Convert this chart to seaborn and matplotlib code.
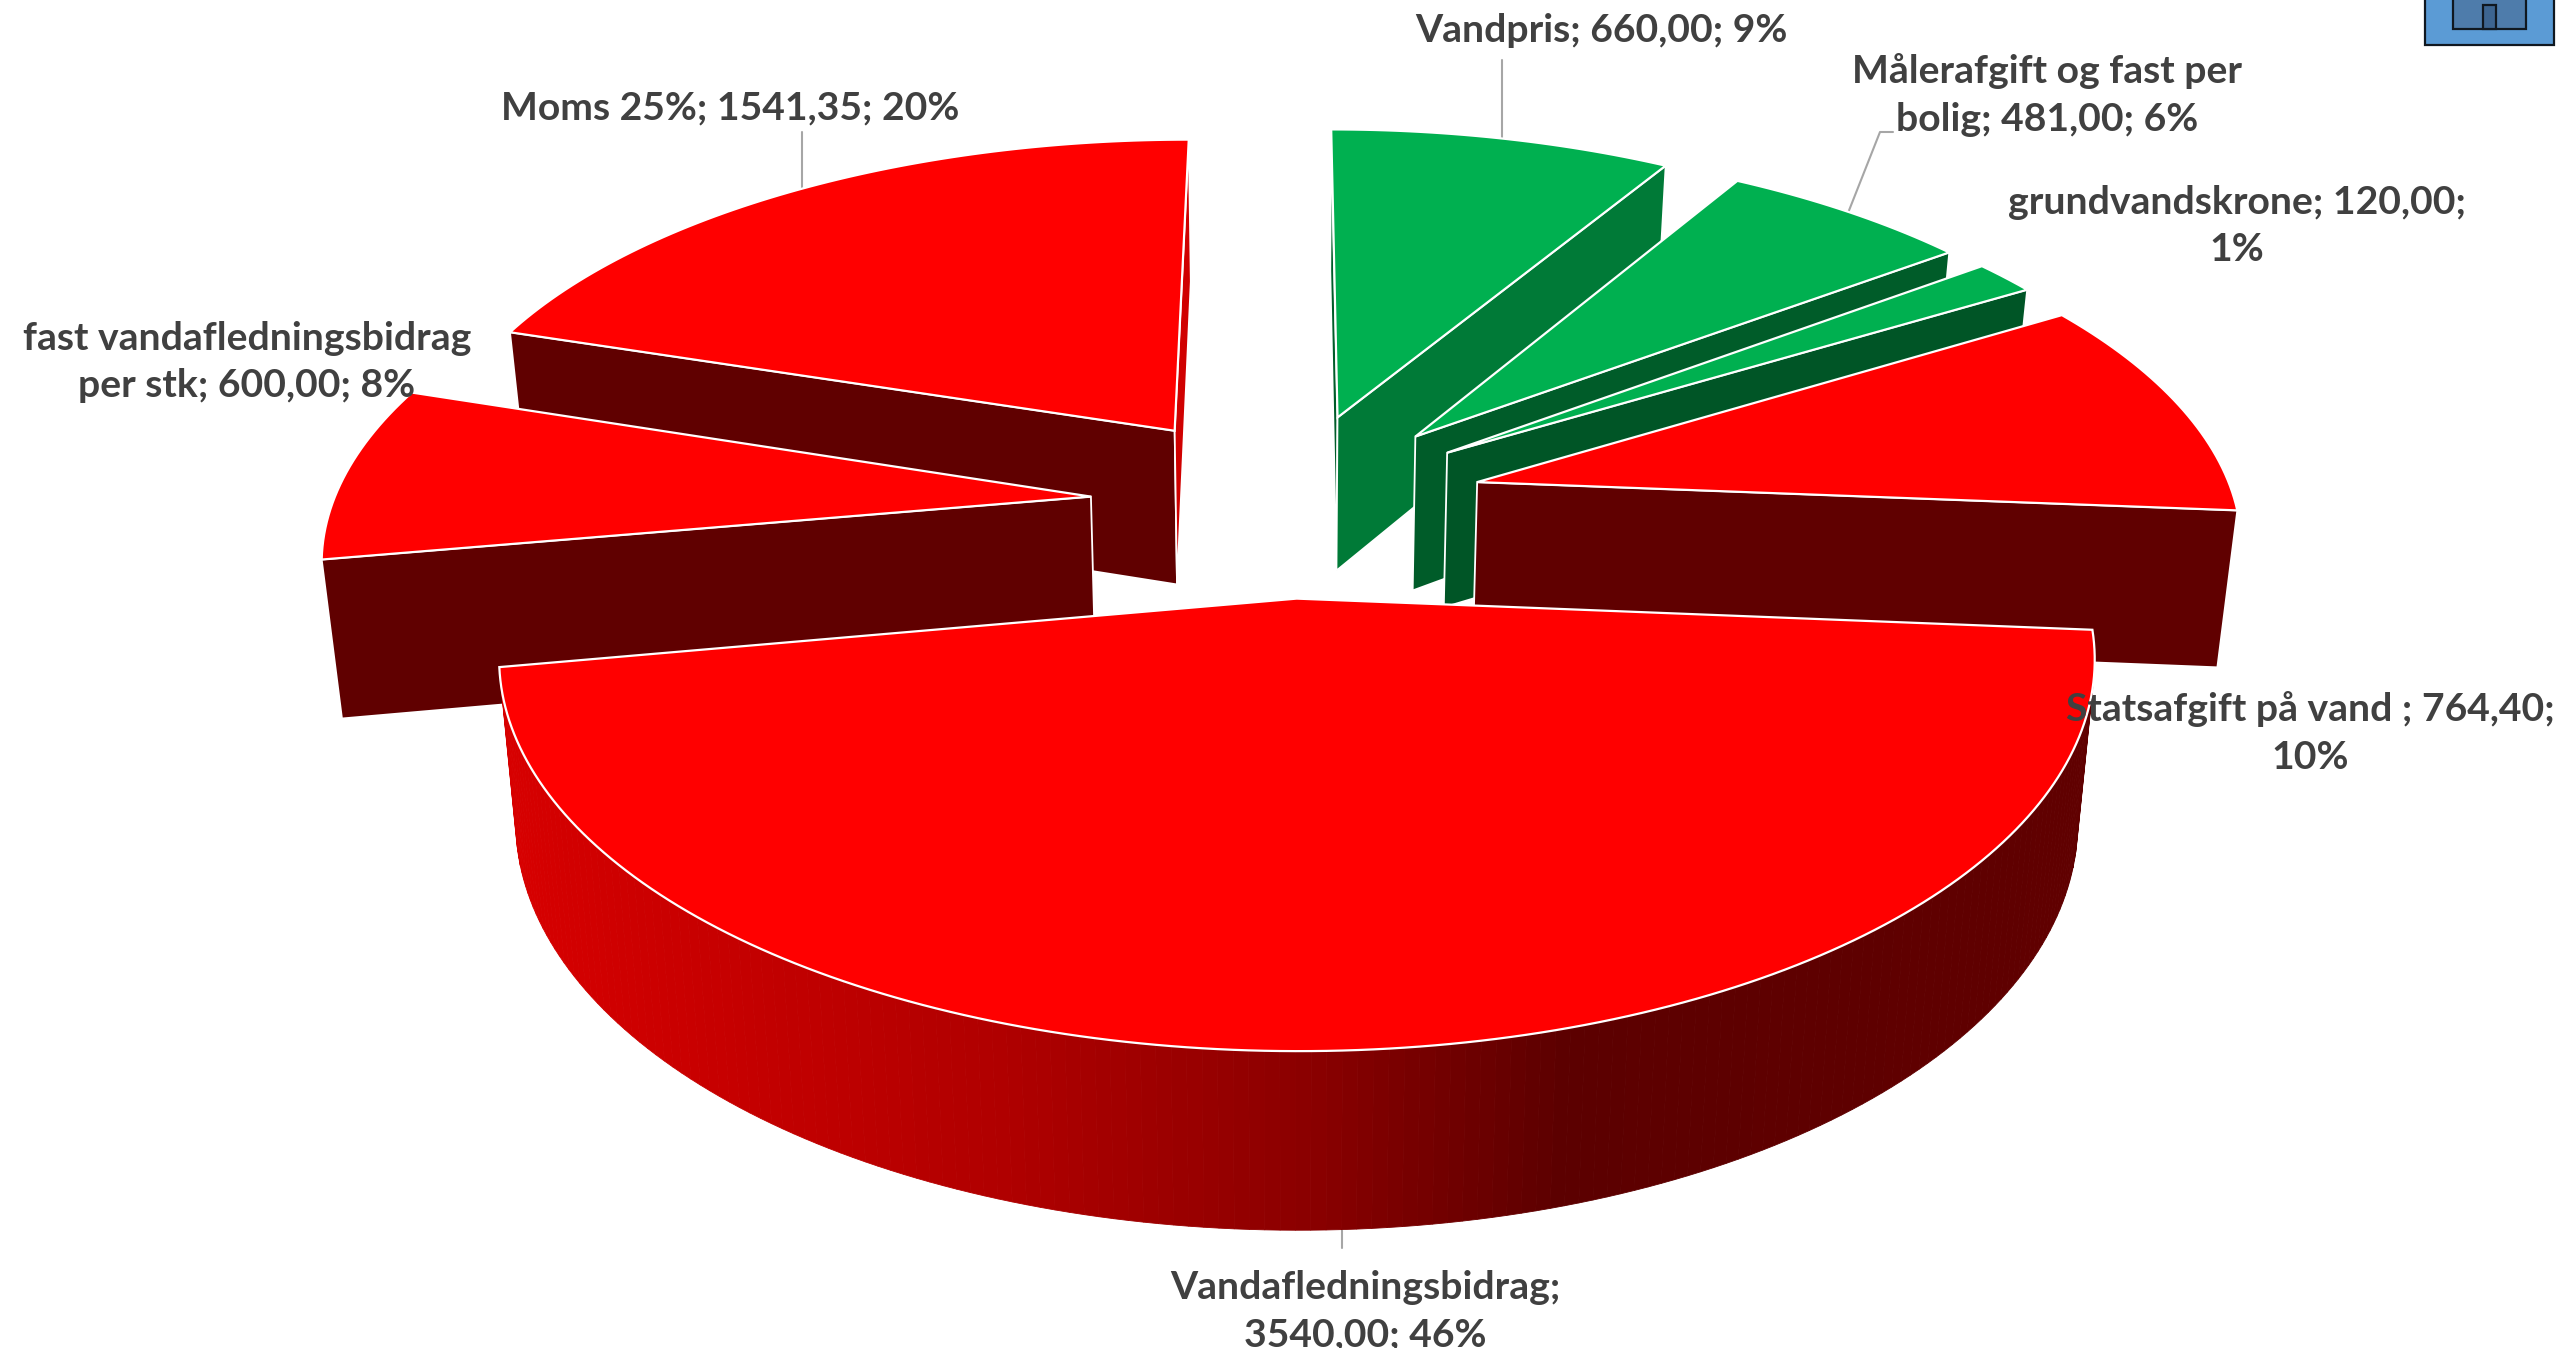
import numpy as np
import matplotlib
matplotlib.use("Agg")
import matplotlib.pyplot as plt
from matplotlib.patches import Polygon
import seaborn as sns

# ---- data ----
categories = ["Vandpris", "Målerafgift og fast per bolig", "grundvandskrone",
              "Statsafgift på vand", "Vandafledningsbidrag",
              "fast vandafledningsbidrag per stk", "Moms 25%"]
values = [660.00, 481.00, 120.00, 764.40, 3540.00, 600.00, 1541.35]
labels = ["Vandpris; 660,00; 9%",
          "Målerafgift og fast per\nbolig; 481,00; 6%",
          "grundvandskrone; 120,00;\n1%",
          "Statsafgift på vand ; 764,40;\n10%",
          "Vandafledningsbidrag;\n3540,00; 46%",
          "fast vandafledningsbidrag\nper stk; 600,00; 8%",
          "Moms 25%; 1541,35; 20%"]

sns.set_theme(style="white")
plt.rcParams["font.family"] = ["Lato", "DejaVu Sans"]

# ---- styles per slice ----
TOP = ["#00B050", "#00B050", "#00B050", "#FF0000", "#FF0000", "#FF0000", "#FF0000"]
START_FACE = ["#005C29", "#005C29", "#005C29", "#600000", "#600000", "#600000", "#600000"]
END_FACE = ["#007A37", "#005C29", "#005526", "#600000", "#600000", "#600000", "#D00000"]
DRAW_ORDER = [6, 5, 0, 1, 2, 3, 4]
LABEL_POS = [(1601, 31), (2047, 95), (2237, 226), (2310, 733), (1365, 1311), (247, 362), (730, 108)]
LEADERS = [[(1502, 140), (1502, 60)],
           [(1848, 213), (1880, 132), (1893, 132)],
           [(802, 192), (802, 132)],
           [(1342, 1229), (1342, 1248)]]

# ---- projection of the pie plane ----
CX, CY, RX, RY, PERSP, EXPLODE = 1287.0, 503.0, 758.0, 354.0, 0.148, 0.26
BOTTOM_X, BOTTOM_Y_A, BOTTOM_Y_B = 0.979, 136.0, 1.041


def project(gx, gy, bottom=False):
    w = 1 + PERSP * gy
    x = CX + RX * gx / w
    y = CY - RY * gy / w
    if bottom:
        x = CX + (x - CX) * BOTTOM_X
        y = BOTTOM_Y_A + BOTTOM_Y_B * y
    return x, y


def area(poly):
    p = np.asarray(poly)
    xs, ys = p[:, 0], p[:, 1]
    return 0.5 * np.sum(xs * np.roll(ys, -1) - np.roll(xs, -1) * ys)


def rim_colour(x):
    r = np.interp(x, [500, 1000, 1300, 1560, 2090], [0xD8, 0xB0, 0x8C, 0x5C, 0x60])
    return (r / 255, 0, 0)


fractions = np.array(values) / np.sum(values)
edges = np.concatenate([[0], np.cumsum(fractions)]) * 2 * np.pi

fig = plt.figure(figsize=(25.6, 13.48), dpi=100, facecolor="white")
ax = fig.add_axes([0, 0, 1, 1])
ax.set_xlim(0, 2560)
ax.set_ylim(1348, 0)
ax.axis("off")

# icon cut by the top edge
for (x0, x1, y0, y1, fc) in [(2425, 2554, -5, 45, "#5B9BD5"),
                             (2453, 2526, -5, 29, "#4E7CAB"),
                             (2483, 2496, 5, 29, "#3D6590")]:
    ax.add_patch(Polygon([(x0, y0), (x1, y0), (x1, y1), (x0, y1)], closed=True,
                         fc=fc, ec="#101820", lw=1.6, zorder=1))

for z, i in enumerate(DRAW_ORDER):
    a0, a1 = edges[i], edges[i + 1]
    mid = (a0 + a1) / 2
    ox, oy = EXPLODE * np.sin(mid), EXPLODE * np.cos(mid)
    th = np.linspace(a0, a1, max(6, int((a1 - a0) * 60)))
    gx, gy = ox + np.sin(th), oy + np.cos(th)
    top_arc = [project(a, b) for a, b in zip(gx, gy)]
    bot_arc = [project(a, b, True) for a, b in zip(gx, gy)]
    apex_t, apex_b = project(ox, oy), project(ox, oy, True)
    zo = 2 + z

    # cut faces and rim are only drawn when they face the viewer
    start = [apex_t, top_arc[0], bot_arc[0], apex_b]
    end = [apex_t, apex_b, bot_arc[-1], top_arc[-1]]
    if area(start) < 0:
        ax.add_patch(Polygon(start, closed=True, fc=START_FACE[i], ec="white", lw=1.3, zorder=zo))
    if area(end) < 0:
        ax.add_patch(Polygon(end, closed=True, fc=END_FACE[i], ec="white", lw=1.3, zorder=zo))
    for k in range(len(th) - 1):
        q = [top_arc[k], bot_arc[k], bot_arc[k + 1], top_arc[k + 1]]
        if area(q) > 0:
            c = rim_colour(np.mean([p[0] for p in q]))
            ax.add_patch(Polygon(q, closed=True, fc=c, ec=c, lw=0.6, zorder=zo))
    ax.add_patch(Polygon([apex_t] + top_arc, closed=True, fc=TOP[i], ec="white", lw=1.6,
                         joinstyle="miter", zorder=zo + 0.5))

for pts in LEADERS:
    xs, ys = zip(*pts)
    ax.plot(xs, ys, color="#A6A6A6", lw=1.5, zorder=1)

for txt, (x, y) in zip(labels, LABEL_POS):
    ax.text(x, y, txt, ha="center", va="center", fontsize=28.2, fontweight="bold",
            color="#404040", linespacing=1.42, zorder=20, clip_on=False)

fig.savefig("out.png", dpi=100, facecolor="white")
